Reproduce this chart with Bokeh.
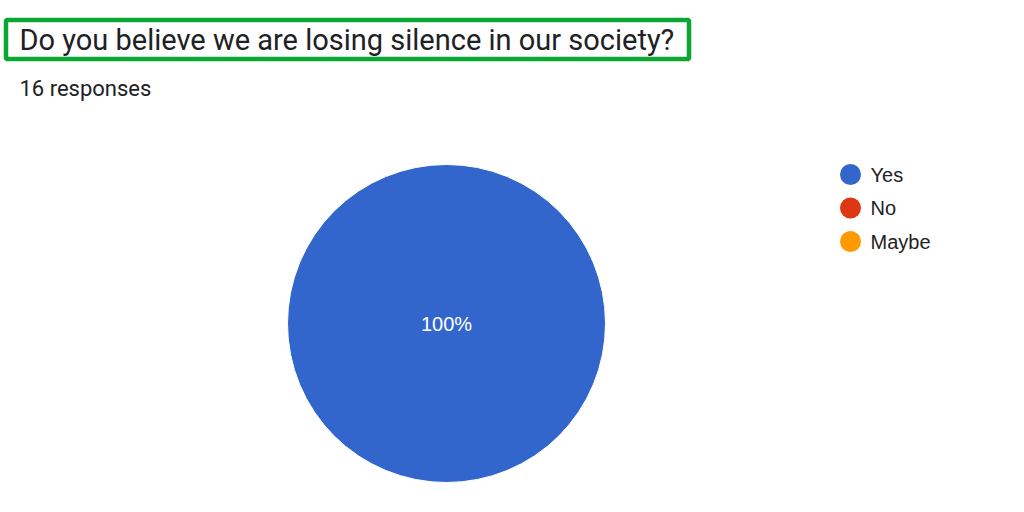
import math
from bokeh.plotting import figure
from bokeh.models import Range1d
from bokeh.core.properties import value
from bokeh.embed import file_html
from bokeh.resources import INLINE

# ---- data ----
title_text = "Do you believe we are losing silence in our society?"
subtitle_text = "16 responses"
categories = ["Yes", "No", "Maybe"]
counts = [16, 0, 0]
colors = ["#3366cc", "#dc3912", "#ff9900"]

W, H = 1008, 496
p = figure(width=W, height=H, output_backend="svg", toolbar_location=None,
           x_range=Range1d(0, W), y_range=Range1d(H, 0),
           min_border=0, outline_line_color=None)
p.axis.visible = False
p.grid.visible = False
p.background_fill_color = "white"
p.border_fill_color = "white"

# title box
p.quad(left=[5.5], right=[688.5], top=[19.5], bottom=[58.5], fill_color=None,
       line_color="#0ba733", line_width=4.5)
p.text(x=[19], y=[39], text=[title_text], text_font=value("Roboto"),
       text_font_size="29px", text_color="#202124", text_baseline="middle")
p.text(x=[19], y=[88], text=[subtitle_text], text_font=value("Roboto"),
       text_font_size="22px", text_color="#202124", text_baseline="middle")

# pie
cx, cy, r = 446, 323, 159
total = sum(counts)
start = -math.pi / 2
for cat, c, col in zip(categories, counts, colors):
    if c <= 0:
        continue
    frac = c / total
    end = start + frac * 2 * math.pi
    if frac >= 0.9999:
        p.circle(x=[cx], y=[cy], radius=r, radius_units="screen",
                 fill_color=col, line_color="white", line_width=1)
        lx, ly = cx, cy
    else:
        p.wedge(x=[cx], y=[cy], radius=r, radius_units="screen",
                start_angle=start, end_angle=end, fill_color=col,
                line_color="white", line_width=1)
        mid = (start + end) / 2
        lx, ly = cx + 0.6 * r * math.cos(mid), cy + 0.6 * r * math.sin(mid)
    p.text(x=[lx], y=[ly], text=[f"{round(frac*100)}%"],
           text_font=value("Liberation Sans"), text_font_size="20px",
           text_color="white", text_align="center", text_baseline="middle")
    start = end

# legend
ly0, dy = 174, 33.5
for i, (cat, col) in enumerate(zip(categories, colors)):
    yy = ly0 + i * dy
    p.scatter(x=[850], y=[yy], size=21, marker="circle", fill_color=col,
              line_color=None)
    p.text(x=[870], y=[yy], text=[cat], text_font=value("Liberation Sans"),
           text_font_size="20px", text_color="#222222", text_baseline="middle")

open("out.html", "w").write(file_html(p, INLINE))
